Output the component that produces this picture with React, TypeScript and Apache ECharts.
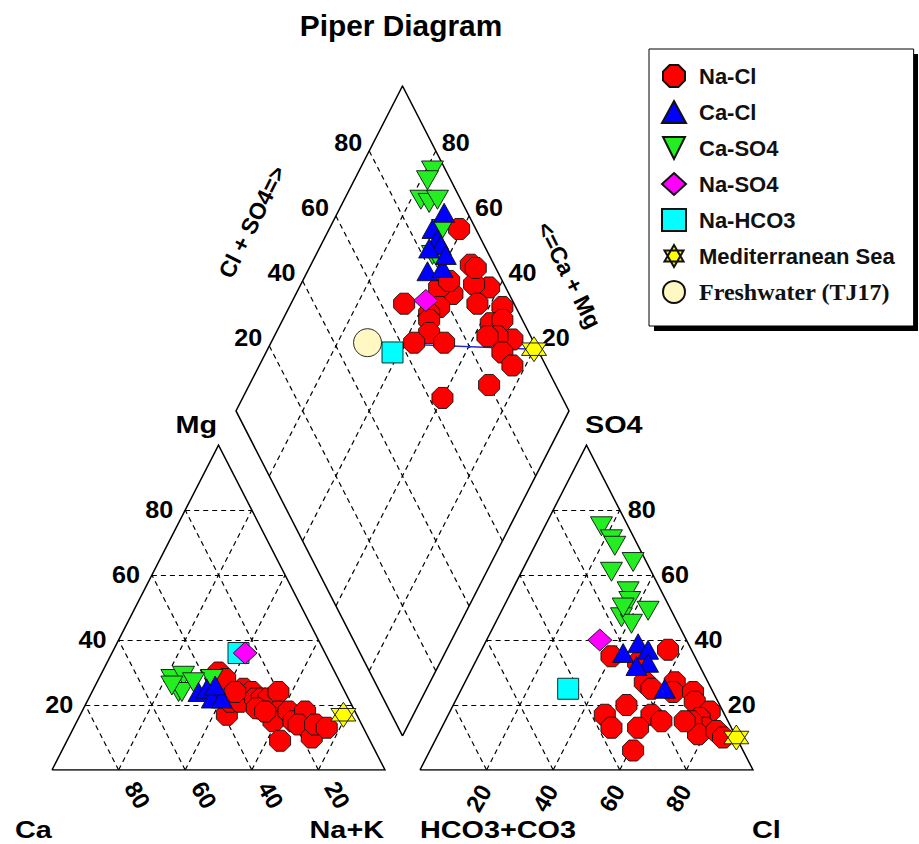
import React, { useEffect, useRef } from "react";
import * as echarts from "echarts";

// ---------- data (percent values) ----------
const GAP = 10.5; // gap between the two base triangles, in % of base
const TICKS = [20, 40, 60, 80];

// Cation triangle: [Ca %, Mg %]  (Na+K = 100 - Ca - Mg)
const naClCation = [[35, 30], [34, 28], [39, 17], [36, 21], [33, 21], [30, 25], [28, 24], [28, 22], [26, 22], [28, 19], [24, 22], [20, 24], [23, 18], [26, 15], [20, 18], [20, 15], [15, 18], [19, 14], [17, 10], [14, 14], [11, 13], [27, 9], [29, 19], [33, 24], [27, 18]];
const caClCation = [[44, 24], [41, 25], [38, 25], [41, 22], [38, 22], [38, 26]];
const caSO4Cation = [[50, 28], [46, 29], [50, 24], [49, 24], [51, 26], [38, 28], [44, 27]];
const naSO4Cation = [[24, 36]];
const naHCO3Cation = [[26, 36]];
const seaCation = [[4, 17]];
const freshCation: number[][] = [];

// Anion triangle: [Cl %, SO4 %]  (HCO3+CO3 = 100 - Cl - SO4)
const naClAnion = [[40, 35], [49, 33], [56, 37], [54, 27], [57, 25], [63, 27], [64, 24], [70, 24], [72, 21], [78, 18], [76, 16], [79, 13], [74, 15], [78, 11], [83, 12], [86, 10], [52, 20], [47, 17], [51, 13], [61, 17], [65, 15], [59, 13], [61, 6], [72, 15]];
const caClAnion = [[43, 36], [46, 39], [50, 37], [52, 33], [49, 32], [61, 25]];
const caSO4Anion = [[17, 75], [22, 71], [24, 69], [27, 61], [32, 64], [35, 55], [37, 52], [37, 47], [44, 49], [41, 45], [36, 50]];
const naSO4Anion = [[34, 40]];
const naHCO3Anion = [[32, 25]];
const seaAnion = [[90, 10]];
const freshAnion: number[][] = [];

// Diamond: [Cl+SO4 %, Ca+Mg %]
const naClDiamond = [[95, 61], [93, 52], [95, 43], [91, 48], [89, 44], [83, 53], [80, 58], [77, 55], [67, 66], [96, 36], [90, 37], [94, 34], [94, 28], [90, 33], [89, 29], [90, 24], [73, 57], [72, 56], [70, 54], [64, 57], [73, 48], [80, 28], [64, 40], [87, 36], [84, 56], [94, 50]];
const caClDiamond = [[93, 68], [87, 69], [87, 66], [87, 64], [83, 67], [79, 64], [84, 60], [87, 61]];
const caSO4Diamond = [[96, 78], [93, 78], [88, 77], [90, 74], [93, 72], [90, 66], [83, 65], [84, 63]];
const naSO4Diamond = [[74, 60]];
const naHCO3Diamond = [[56, 62]];
const seaDiamond = [[99, 20]];
const freshDiamond = [[50, 71]];

// ---------- piper projections (data -> plane) ----------
const cat = ([ca, mg]: number[]) => [100 - ca - mg + mg / 2, mg];
const an = ([cl, so4]: number[]) => [100 + GAP + cl + so4 / 2, so4];
const dia = ([u, v]: number[]) => [100 + GAP / 2 + (u - v) / 2, GAP + u + v];

const pts = (c: number[][], a: number[][], d: number[][]) => [
  ...c.map(cat),
  ...a.map(an),
  ...d.map(dia),
];

const OCT = "path://M30,0 L70,0 L100,30 L100,70 L70,100 L30,100 L0,70 L0,30 Z";
const INV_TRI = "path://M0,0 L100,0 L50,100 Z";
const STAR = "path://M50,0 L93.3,75 L6.7,75 Z M50,100 L6.7,25 L93.3,25 Z";

const FONT = '"Liberation Sans", Arial, sans-serif';

export default function App() {
  const ref = useRef<HTMLDivElement>(null);

  useEffect(() => {
    const chart = echarts.init(ref.current!, null, { renderer: "svg" });

    const frame = [
      { coords: [cat([100, 0]), cat([0, 0]), cat([0, 100]), cat([100, 0])] },
      { coords: [an([0, 0]), an([100, 0]), an([0, 100]), an([0, 0])] },
      { coords: [dia([0, 0]), dia([100, 0]), dia([100, 100]), dia([0, 100]), dia([0, 0])] },
    ];
    const gridLines: any[] = [];
    TICKS.forEach((t) => {
      gridLines.push({ coords: [cat([100 - t, t]), cat([0, t])] });
      gridLines.push({ coords: [cat([t, 0]), cat([t, 100 - t])] });
      gridLines.push({ coords: [cat([100 - t, 0]), cat([0, 100 - t])] });
      gridLines.push({ coords: [an([0, t]), an([100 - t, t])] });
      gridLines.push({ coords: [an([t, 0]), an([t, 100 - t])] });
      gridLines.push({ coords: [an([100 - t, 0]), an([0, 100 - t])] });
      gridLines.push({ coords: [dia([t, 0]), dia([t, 100])] });
      gridLines.push({ coords: [dia([0, t]), dia([100, t])] });
    });

    const border = { borderColor: "#111", borderWidth: 0.9 };
    const scatter = (name: string, data: number[][], symbol: string, size: any, color: string, z: number) => ({
      name,
      type: "scatter",
      data,
      symbol,
      symbolSize: size,
      clip: false,
      z,
      itemStyle: { color, opacity: 1, ...border },
      emphasis: { disabled: true },
    });

    chart.setOption({
      animation: false,
      grid: { left: 52, top: 86, width: 701, height: 684 },
      xAxis: { type: "value", min: 0, max: 210.5, show: false },
      yAxis: { type: "value", min: 0, max: 210.5, show: false },
      legend: {
        orient: "vertical",
        left: 649,
        top: 49,
        padding: [15, 19, 22, 12],
        itemGap: 12,
        itemWidth: 24,
        itemHeight: 22,
        backgroundColor: "#fff",
        borderColor: "#000",
        borderWidth: 1,
        selectedMode: false,
        data: ["Na-Cl", "Ca-Cl", "Ca-SO4", "Na-SO4", "Na-HCO3", "Mediterranean Sea", "Freshwater (TJ17)"],
        formatter: (name: string) => (name === "Freshwater (TJ17)" ? "{s|" + name + "}" : name),
        textStyle: {
          fontFamily: FONT,
          fontWeight: "bold",
          fontSize: 22,
          color: "#111",
          padding: [0, 0, 0, 8],
          rich: {
            s: { fontFamily: '"Liberation Serif", "Times New Roman", serif', fontWeight: "bold", fontSize: 24, color: "#111" },
          },
        },
      },
      series: [
        {
          type: "lines",
          coordinateSystem: "cartesian2d",
          polyline: false,
          silent: true,
          z: 1,
          data: gridLines,
          lineStyle: { color: "#000", width: 1.2, type: [5, 4], opacity: 1 },
        },
        {
          type: "lines",
          coordinateSystem: "cartesian2d",
          polyline: true,
          silent: true,
          z: 2,
          data: frame,
          lineStyle: { color: "#000", width: 1.5, type: "solid", opacity: 1 },
        },
        {
          type: "line",
          data: [dia(freshDiamond[0]), dia(seaDiamond[0])],
          symbol: "none",
          silent: true,
          clip: false,
          z: 3,
          lineStyle: { color: "#2a2ad0", width: 1.5 },
        },
        scatter("Na-Cl", pts(naClCation, naClAnion, naClDiamond), OCT, 21, "#ff0000", 4),
        scatter("Ca-SO4", pts(caSO4Cation, caSO4Anion, caSO4Diamond), INV_TRI, [22, 19], "#22ee22", 5),
        scatter("Ca-Cl", pts(caClCation, caClAnion, caClDiamond), "triangle", [21, 19], "#0000ff", 6),
        scatter("Na-HCO3", pts(naHCO3Cation, naHCO3Anion, naHCO3Diamond), "rect", 21, "#00ffff", 7),
        scatter("Na-SO4", pts(naSO4Cation, naSO4Anion, naSO4Diamond), "diamond", [24, 22], "#ff00ff", 8),
        scatter("Mediterranean Sea", pts(seaCation, seaAnion, seaDiamond), STAR, 25, "#ffff00", 9),
        scatter("Freshwater (TJ17)", pts(freshCation, freshAnion, freshDiamond), "circle", 28, "#fff8c2", 9),
      ],
    });

    const P = (p: number[]) => chart.convertToPixel({ gridIndex: 0 }, p) as number[];
    const txt = (text: string, x: number, y: number, size: number, align: string, sx = 1, rot = 0) => ({
      type: "text",
      x,
      y,
      rotation: rot,
      scaleX: sx,
      silent: true,
      style: {
        text,
        font: `bold ${size}px ${FONT}`,
        fill: "#000",
        align,
        verticalAlign: "middle",
        textAlign: align,
        textVerticalAlign: "middle",
      },
    });

    const els: any[] = [];
    // legend shadow
    els.push({ type: "rect", z: 0, shape: { x: 654, y: 54, width: 264, height: 277 }, style: { fill: "#000" }, silent: true });
    // title
    els.push(txt("Piper Diagram", 401, 26, 29, "center", 1.03));
    TICKS.forEach((t) => {
      const s = String(t);
      let p = P(cat([100 - t, t]));
      els.push(txt(s, p[0] - 12, p[1], 24, "right", 1.05));
      p = P(an([100 - t, t]));
      els.push(txt(s, p[0] + 8, p[1], 24, "left", 1.05));
      p = P(cat([t, 0]));
      els.push(txt(s, p[0] + 19, p[1] + 25, 24, "center", 1, -Math.PI / 3));
      p = P(an([t, 0]));
      els.push(txt(s, p[0] - 8, p[1] + 28, 24, "center", 1, Math.PI / 3));
      p = P(dia([t, 100]));
      els.push(txt(s, p[0] - 7, p[1] - 8, 24, "right", 1.05));
      p = P(dia([100, t]));
      els.push(txt(s, p[0] + 6, p[1] - 8, 24, "left", 1.05));
    });
    els.push(txt("Cl + SO4=>", 252, 222, 23, "center", 1, 1.107));
    els.push(txt("<=Ca + Mg", 569, 275, 23, "center", 1, -1.107));
    els.push(txt("Ca", 15, 830, 24, "left", 1.2));
    els.push(txt("Na+K", 384, 830, 24, "right", 1.2));
    els.push(txt("HCO3+CO3", 420, 830, 24, "left", 1.2));
    els.push(txt("Cl", 752, 830, 24, "left", 1.2));
    els.push(txt("Mg", 217, 425, 24, "right", 1.2));
    els.push(txt("SO4", 585, 425, 24, "left", 1.2));

    chart.setOption({ graphic: { elements: els } });

    return () => chart.dispose();
  }, []);

  return <div ref={ref} style={{ position: "absolute", left: 0, top: 0, width: 919, height: 844 }} />;
}
